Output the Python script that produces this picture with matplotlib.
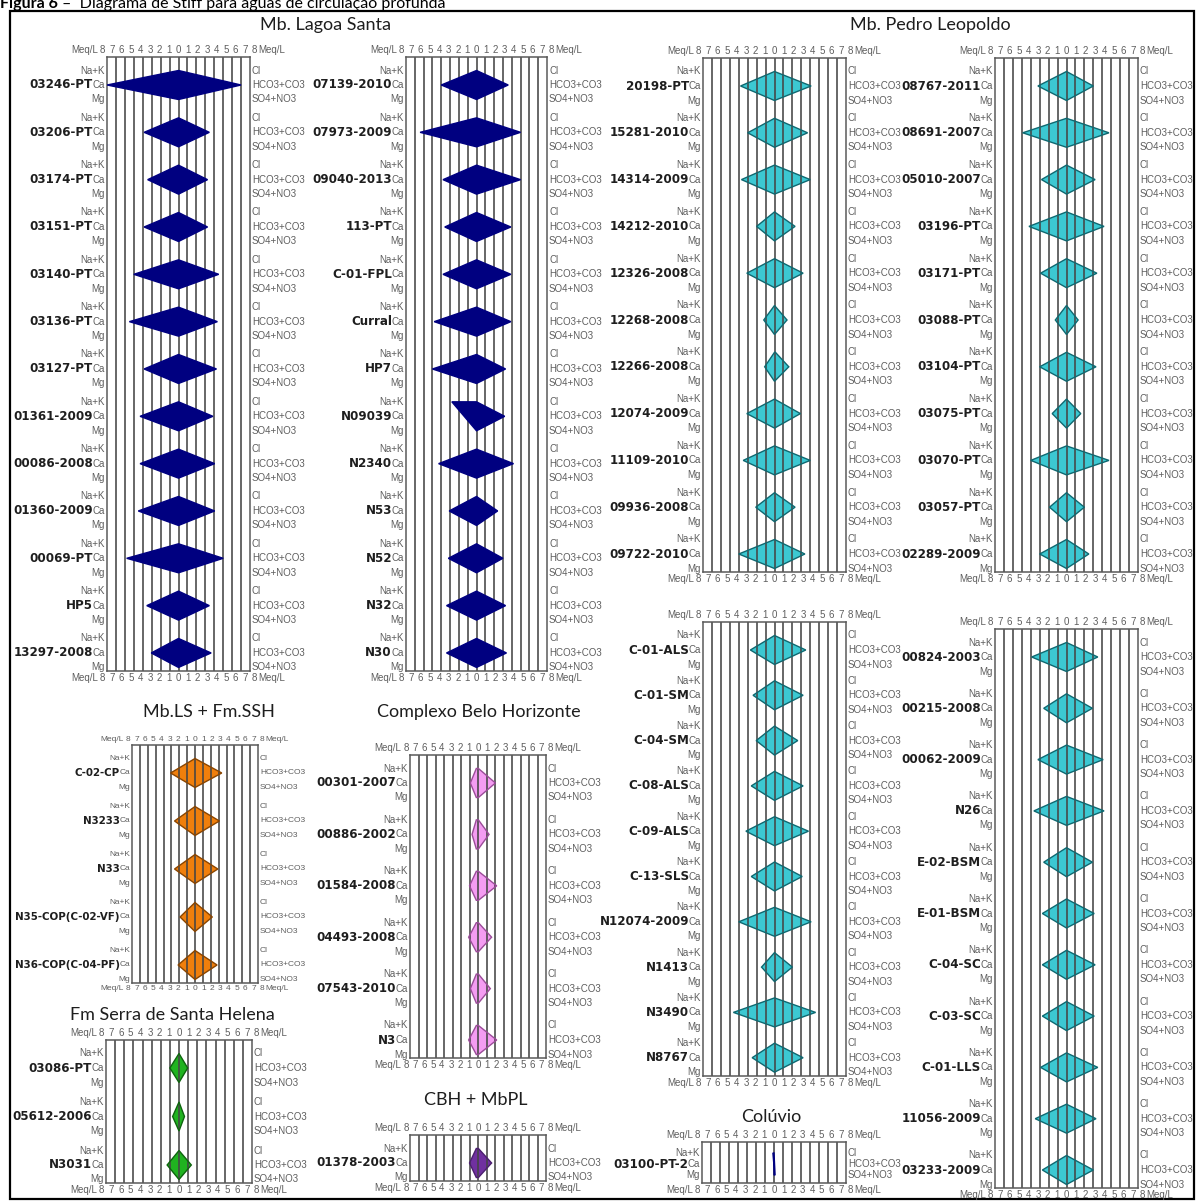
import matplotlib
matplotlib.use("Agg")
import matplotlib.pyplot as plt
from matplotlib.patches import Polygon, Rectangle
from matplotlib.transforms import offset_copy, blended_transform_factory

# ---------------- data (meq/L) ----------------
# Mb. Lagoa Santa, left column
ls1_names = ["03246-PT", "03206-PT", "03174-PT", "03151-PT", "03140-PT", "03136-PT",
             "03127-PT", "01361-2009", "00086-2008", "01360-2009", "00069-PT", "HP5", "13297-2008"]
ls1_ca = [8.0, 3.85, 3.45, 3.85, 5.0, 5.5, 3.85, 4.3, 4.3, 4.5, 5.8, 3.55, 3.05]
ls1_hco3 = [7.0, 3.45, 3.25, 3.25, 4.5, 4.35, 4.25, 3.85, 4.05, 4.05, 5.0, 3.45, 3.65]
ls1_nak = [0.0] * 13
ls1_mg = [0.0] * 13
ls1_cl = [0.0] * 13
ls1_so4 = [0.0] * 13

# Mb. Lagoa Santa, right column
ls2_names = ["07139-2010", "07973-2009", "09040-2013", "113-PT", "C-01-FPL", "Curral",
             "HP7", "N09039", "N2340", "N53", "N52", "N32", "N30"]
ls2_ca = [4.0, 6.4, 3.8, 3.6, 3.8, 4.8, 5.0, 1.4, 4.3, 3.1, 3.2, 3.4, 3.4]
ls2_hco3 = [3.6, 5.0, 5.0, 3.9, 3.9, 3.9, 3.3, 3.2, 4.2, 2.4, 3.0, 3.3, 3.4]
ls2_nak = [0.0, 0.0, 0.0, 0.0, 0.0, 0.0, 0.0, 2.8, 0.0, 0.0, 0.0, 0.0, 0.0]
ls2_mg = [0.0] * 13
ls2_cl = [0.0] * 13
ls2_so4 = [0.0] * 13

# Mb. Pedro Leopoldo, upper left
pl1_names = ["20198-PT", "15281-2010", "14314-2009", "14212-2010", "12326-2008", "12268-2008",
             "12266-2008", "12074-2009", "11109-2010", "09936-2008", "09722-2010"]
pl1_ca = [3.8, 3.0, 3.7, 2.0, 3.1, 1.2, 1.1, 3.1, 3.5, 2.1, 4.0]
pl1_hco3 = [4.1, 3.7, 4.0, 2.3, 3.2, 1.4, 1.6, 2.9, 4.0, 2.3, 3.4]
pl1_nak = [0.0] * 11
pl1_mg = [0.0] * 11
pl1_cl = [0.0, 0.0, 0.0, 0.0, 0.0, 0.0, 0.1, 0.0, 0.0, 0.0, 0.0]
pl1_so4 = [0.0] * 11

# Mb. Pedro Leopoldo, upper right
pl2_names = ["08767-2011", "08691-2007", "05010-2007", "03196-PT", "03171-PT", "03088-PT",
             "03104-PT", "03075-PT", "03070-PT", "03057-PT", "02289-2009"]
pl2_ca = [3.2, 4.9, 2.8, 4.2, 2.9, 1.25, 3.0, 1.6, 4.0, 1.9, 3.0]
pl2_hco3 = [3.0, 4.75, 3.2, 4.2, 3.4, 1.3, 3.3, 1.6, 4.75, 2.0, 2.5]
pl2_nak = [0.0] * 11
pl2_mg = [0.0] * 11
pl2_cl = [0.0] * 11
pl2_so4 = [0.0] * 11

# Mb. Pedro Leopoldo, lower left
pl3_names = ["C-01-ALS", "C-01-SM", "C-04-SM", "C-08-ALS", "C-09-ALS", "C-13-SLS",
             "N12074-2009", "N1413", "N3490", "N8767"]
pl3_ca = [2.7, 2.4, 2.05, 2.6, 3.2, 2.6, 4.0, 1.45, 4.6, 2.5]
pl3_hco3 = [3.5, 3.2, 2.6, 3.2, 3.8, 3.1, 4.1, 2.0, 4.6, 3.2]
pl3_nak = [0.0] * 10
pl3_mg = [0.0] * 10
pl3_cl = [0.0] * 10
pl3_so4 = [0.0] * 10

# Mb. Pedro Leopoldo, lower right
pl4_names = ["00824-2003", "00215-2008", "00062-2009", "N26", "E-02-BSM", "E-01-BSM",
             "C-04-SC", "C-03-SC", "C-01-LLS", "11056-2009", "03233-2009"]
pl4_ca = [3.9, 2.55, 3.2, 3.65, 2.55, 2.7, 2.7, 2.7, 2.9, 3.5, 2.7]
pl4_hco3 = [3.5, 2.9, 4.1, 4.2, 2.9, 3.1, 3.2, 3.1, 3.5, 3.3, 3.0]
pl4_nak = [0.0] * 11
pl4_mg = [0.0] * 11
pl4_cl = [0.0] * 11
pl4_so4 = [0.0] * 11

# Mb.LS + Fm.SSH
lss_names = ["C-02-CP", "N3233", "N33", "N35-COP(C-02-VF)", "N36-COP(C-04-PF)"]
lss_ca = [3.1, 2.6, 2.6, 1.9, 2.15]
lss_hco3 = [3.4, 3.1, 2.9, 2.2, 2.8]
lss_nak = [0.0] * 5
lss_mg = [0.0] * 5
lss_cl = [0.0] * 5
lss_so4 = [0.0] * 5

# Fm Serra de Santa Helena
ssh_names = ["03086-PT", "05612-2006", "N3031"]
ssh_ca = [1.0, 0.7, 1.3]
ssh_hco3 = [0.95, 0.6, 1.35]
ssh_nak = [0.0] * 3
ssh_mg = [0.0] * 3
ssh_cl = [0.0] * 3
ssh_so4 = [0.0] * 3

# Complexo Belo Horizonte
cbh_names = ["00301-2007", "00886-2002", "01584-2008", "04493-2008", "07543-2010", "N3"]
cbh_ca = [0.9, 0.7, 1.0, 1.1, 0.9, 1.1]
cbh_hco3 = [2.05, 1.3, 2.2, 1.6, 1.45, 2.2]
cbh_nak = [0.2] * 6
cbh_mg = [0.2] * 6
cbh_cl = [0.05] * 6
cbh_so4 = [0.05] * 6

# CBH + MbPL
cbp_names = ["01378-2003"]
cbp_ca = [1.0]
cbp_hco3 = [1.6]
cbp_nak = [0.2]
cbp_mg = [0.2]
cbp_cl = [0.05]
cbp_so4 = [0.05]

# Colúvio
col_names = ["03100-PT-2"]
col_ca = [0.02]
col_hco3 = [0.06]
col_nak = [0.12]
col_mg = [0.0]
col_cl = [0.0]
col_so4 = [0.12]

# ---------------- figure ----------------
W, H = 1197, 1201
fig = plt.figure(figsize=(W / 100, H / 100), dpi=100)
fig.patch.set_facecolor("white")

SANS = ["Liberation Sans", "DejaVu Sans"]
TITLE = dict(family=["Lato", "DejaVu Sans"], size=13, color="#1e1e1e")


def stiff_panel(x0, x1, ca_first, step, names, nak, ca, mg, cl, hco3, so4,
                face, edge, half=14.5, top_pad=28, bot_pad=18, fill_on_top=False, fs=1.0):
    small = dict(family=SANS, size=7.0 * fs, color="#5e5e5e")
    bold = dict(family=["DejaVu Sans"], size=8.6 * fs, weight="bold", color="#1e1e1e")
    n = len(names)
    y_top = ca_first - top_pad
    y_bot = ca_first + (n - 1) * step + bot_pad
    ax = fig.add_axes([x0 / W, 1 - y_bot / H, (x1 - x0) / W, (y_bot - y_top) / H])
    ax.set_xlim(-8, 8)
    ax.set_ylim((n - 1) + bot_pad / step, -top_pad / step)
    ax.set_xticks([])
    ax.set_yticks([])
    for s in ax.spines.values():
        s.set_color("#5a5a5a")
        s.set_linewidth(1.1)
    for k in range(-7, 8):
        ax.axvline(k, color="#454545", lw=1.15, zorder=2)
    d = half / step
    left = offset_copy(ax.transData, fig=fig, x=-2, units="dots")
    right = offset_copy(ax.transData, fig=fig, x=2, units="dots")
    name_tr = offset_copy(ax.transData, fig=fig, x=-14 * fs, units="dots")
    for i in range(n):
        pts = [(-nak[i], i - d), (-ca[i], i), (-mg[i], i + d),
               (so4[i], i + d), (hco3[i], i), (cl[i], i - d)]
        zf = 3 if fill_on_top else 1
        ax.add_patch(Polygon(pts, closed=True, facecolor=face, edgecolor="none", zorder=zf))
        ax.add_patch(Polygon(pts, closed=True, fill=False, edgecolor=edge, lw=1.0, zorder=4))
        ax.text(-8, i - d, "Na+K", ha="right", va="center", transform=left, **small)
        ax.text(-8, i, "Ca", ha="right", va="center", transform=left, **small)
        ax.text(-8, i + d, "Mg", ha="right", va="center", transform=left, **small)
        ax.text(8, i - d, "Cl", ha="left", va="center", transform=right, **small)
        ax.text(8, i, "HCO3+CO3", ha="left", va="center", transform=right, **small)
        ax.text(8, i + d, "SO4+NO3", ha="left", va="center", transform=right, **small)
        ax.text(-8, i, names[i], ha="right", va="center", transform=name_tr, **bold)
    # meq/L scale above and below
    bt = blended_transform_factory(ax.transData, ax.transAxes)
    for yy, dy, va in ((1.0, 2, "bottom"), (0.0, -2, "top")):
        tr = offset_copy(bt, fig=fig, y=dy, units="dots")
        for k in range(-8, 9):
            ax.text(k * 1.06, yy, str(abs(k)), ha="center", va=va, transform=tr, **small)
        ax.text(-9.0, yy, "Meq/L", ha="right", va=va, transform=tr, **small)
        ax.text(8.95, yy, "Meq/L", ha="left", va=va, transform=tr, **small)
    return ax


NAVY = ("#000080", "#000080")
CYAN = ("#3cc8d2", "#0f6870")
ORANGE = ("#f07f0c", "#8a4500")
GREEN = ("#20b320", "#0d640d")
PINK = ("#f49cf2", "#9a4c98")
PURPLE = ("#7030a0", "#4a1e6e")

stiff_panel(107, 250, 85, 47.33, ls1_names, ls1_nak, ls1_ca, ls1_mg, ls1_cl, ls1_hco3, ls1_so4,
            *NAVY, fill_on_top=True)
stiff_panel(406, 547, 85, 47.33, ls2_names, ls2_nak, ls2_ca, ls2_mg, ls2_cl, ls2_hco3, ls2_so4,
            *NAVY, fill_on_top=True)
stiff_panel(703, 846, 86, 46.8, pl1_names, pl1_nak, pl1_ca, pl1_mg, pl1_cl, pl1_hco3, pl1_so4, *CYAN)
stiff_panel(995, 1138, 86, 46.8, pl2_names, pl2_nak, pl2_ca, pl2_mg, pl2_cl, pl2_hco3, pl2_so4, *CYAN)
stiff_panel(703, 846, 650, 45.3, pl3_names, pl3_nak, pl3_ca, pl3_mg, pl3_cl, pl3_hco3, pl3_so4, *CYAN)
stiff_panel(995, 1138, 657, 51.3, pl4_names, pl4_nak, pl4_ca, pl4_mg, pl4_cl, pl4_hco3, pl4_so4, *CYAN)
stiff_panel(132, 258, 773, 48.0, lss_names, lss_nak, lss_ca, lss_mg, lss_cl, lss_hco3, lss_so4,
            *ORANGE, fs=0.86)
stiff_panel(106, 252, 1068, 48.5, ssh_names, ssh_nak, ssh_ca, ssh_mg, ssh_cl, ssh_hco3, ssh_so4, *GREEN)
stiff_panel(410, 546, 783, 51.4, cbh_names, cbh_nak, cbh_ca, cbh_mg, cbh_cl, cbh_hco3, cbh_so4, *PINK)
stiff_panel(410, 546, 1163, 47.0, cbp_names, cbp_nak, cbp_ca, cbp_mg, cbp_cl, cbp_hco3, cbp_so4, *PURPLE)
stiff_panel(702, 846, 1164, 47.0, col_names, col_nak, col_ca, col_mg, col_cl, col_hco3, col_so4,
            "#000080", "#000080", half=11, top_pad=22, bot_pad=19)

# group titles
for label, cx, cy in [("Mb. Lagoa Santa", 326, 25), ("Mb. Pedro Leopoldo", 930, 25),
                      ("Mb.LS + Fm.SSH", 209, 712), ("Complexo Belo Horizonte", 479, 712),
                      ("Fm Serra de Santa Helena", 172, 1015), ("CBH + MbPL", 476, 1100),
                      ("Colúvio", 771, 1117)]:
    fig.text(cx / W, 1 - cy / H, label, ha="center", va="center", **TITLE)

# outer frame, drawn beneath the panels so edge labels stay readable
fig.add_artist(Rectangle((10 / W, 1 - 1199 / H), (1194 - 10) / W, (1199 - 11) / H,
                         transform=fig.transFigure, fill=False, edgecolor="black", lw=1.6,
                         zorder=-1))

# caption (partly above the page edge)
cap1 = fig.text(0.5 / W, 1 - 8 / H, "Figura 6", ha="left", va="baseline",
                family=["Lato", "DejaVu Sans"], size=11.5, weight="bold", color="black")
fig.canvas.draw()
bb = cap1.get_window_extent()
fig.text((bb.x1 + 4) / W, 1 - 8 / H, "–  Diagrama de Stiff para águas de circulação profunda",
         ha="left", va="baseline", family=["Lato", "DejaVu Sans"], size=11.5, color="black")

fig.savefig("out.png", dpi=100)
